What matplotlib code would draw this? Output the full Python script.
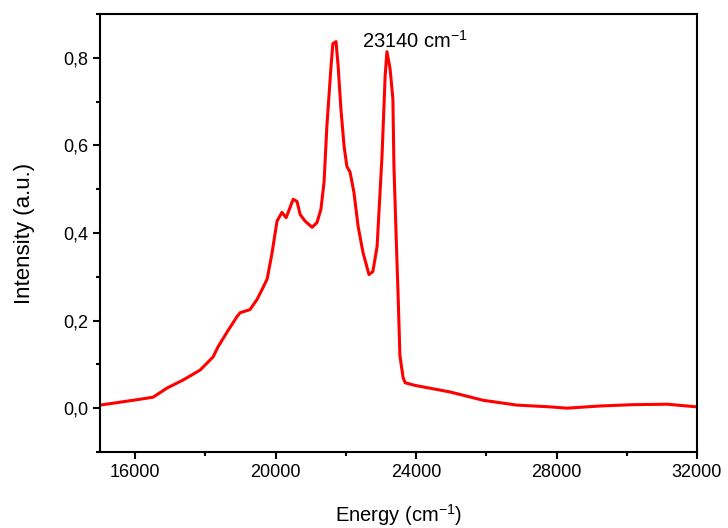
import numpy as np
import matplotlib
matplotlib.use('Agg')
from matplotlib import pyplot as plt
from matplotlib.ticker import MultipleLocator, FuncFormatter

plt.rcParams['font.family'] = ['Liberation Sans', 'DejaVu Sans']
plt.rcParams['mathtext.fontset'] = 'custom'
plt.rcParams['mathtext.rm'] = 'Liberation Sans'
plt.rcParams['mathtext.it'] = 'Liberation Sans'

# spectrum
energy = [15000, 15085, 15940, 16510, 16910, 17360, 17850, 18220, 18360, 18620,
          18900, 18990, 19270, 19470, 19640, 19760, 19900, 20040, 20180, 20300,
          20500, 20610, 20700, 20840, 21040, 21180, 21290, 21380, 21460, 21580,
          21630, 21720, 21780, 21860, 21950, 22030, 22120, 22230, 22350, 22490,
          22660, 22770, 22890, 23030, 23120, 23170, 23260, 23340, 23370, 23430,
          23490, 23540, 23630, 23690, 23970, 24970, 25910, 26870, 27810, 28300,
          29240, 30180, 31150, 32000]
intensity = [0.007, 0.008, 0.018, 0.025, 0.046, 0.064, 0.087, 0.117, 0.14, 0.174,
             0.209, 0.218, 0.225, 0.248, 0.275, 0.295, 0.355, 0.427, 0.447, 0.435,
             0.477, 0.472, 0.442, 0.427, 0.413, 0.424, 0.454, 0.516, 0.644, 0.782,
             0.832, 0.837, 0.782, 0.683, 0.598, 0.552, 0.539, 0.493, 0.415, 0.355,
             0.305, 0.312, 0.369, 0.575, 0.759, 0.814, 0.775, 0.706, 0.552, 0.40,
             0.254, 0.12, 0.07, 0.058, 0.052, 0.037, 0.018, 0.007, 0.003, 0.0,
             0.005, 0.008, 0.009, 0.003]

peak_label = '23140 cm$^{-1}$'

fig = plt.figure(figsize=(7.28, 5.28), dpi=100)
ax = fig.add_axes([0.1374, 0.144, 0.82, 0.8295])

ax.plot(energy, intensity, color='red', linewidth=2.2)

ax.set_xlim(15000, 32000)
ax.set_ylim(-0.1, 0.9)
ax.xaxis.set_major_locator(MultipleLocator(4000))
ax.xaxis.set_minor_locator(MultipleLocator(2000))
ax.yaxis.set_major_locator(MultipleLocator(0.2))
ax.yaxis.set_minor_locator(MultipleLocator(0.1))
ax.yaxis.set_major_formatter(FuncFormatter(lambda v, p: ('%.1f' % v).replace('.', ',')))

for s in ax.spines.values():
    s.set_linewidth(1.5)
ax.tick_params(which='major', direction='out', length=5, width=1.5, labelsize=13,
               top=False, right=False)
ax.tick_params(which='minor', direction='out', length=3, width=1.5,
               top=False, right=False)

ax.text(22460, 0.839, peak_label, fontsize=14.5, va='center', ha='left')

ax.set_xlabel('Energy (cm$^{-1}$)', fontsize=14.5, labelpad=15)
ax.set_ylabel('Intensity (a.u.)', fontsize=16, labelpad=20)

fig.savefig('out.png', dpi=100)
plt.close()
